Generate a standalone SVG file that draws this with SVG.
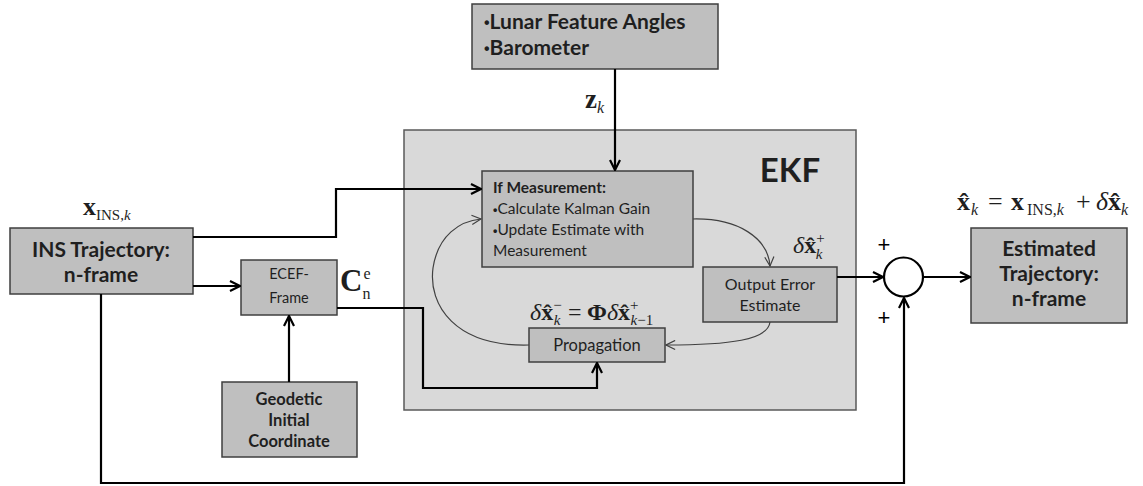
<svg xmlns="http://www.w3.org/2000/svg" width="1143" height="486" viewBox="0 0 1143 486">
<defs>
<style>
.box{fill:#bfbfbf;stroke:#3f3f3f;stroke-width:1.5}
.ekf{fill:#d9d9d9;stroke:#595959;stroke-width:1.5}
.t{font-family:Lato,"Open Sans","Liberation Sans",sans-serif;fill:#1f1f1f}
.b{font-weight:bold}
.c{text-anchor:middle}
.bul{font-family:"Liberation Sans",sans-serif;font-weight:bold}
.m{font-family:"Liberation Serif","DejaVu Serif",serif;fill:#1f1f1f}
.plus{font-family:"Liberation Sans",sans-serif;fill:#000;text-anchor:middle}
.thick{fill:none;stroke:#000;stroke-width:2.2}
.thin{fill:none;stroke:#404040;stroke-width:1.2}
</style>
<marker id="ah" viewBox="0 0 12 12" refX="11" refY="6" markerWidth="12" markerHeight="12" markerUnits="userSpaceOnUse" orient="auto"><path d="M1,1 L11,6 L1,11" fill="none" stroke="#000" stroke-width="2.2"/></marker>
<marker id="ahs" viewBox="0 0 12 12" refX="11" refY="6" markerWidth="11" markerHeight="11" markerUnits="userSpaceOnUse" orient="auto"><path d="M1,1 L11,6 L1,11" fill="none" stroke="#404040" stroke-width="1.3"/></marker>
</defs>

<g id="ekf">
<rect class="ekf" x="404" y="130" width="452" height="280"/>
<text class="t b" x="790" y="182" font-size="33" text-anchor="middle">EKF</text>
</g>

<g id="lunar">
<rect class="box" x="472" y="4" width="246" height="65"/>
<text class="t b" x="484" y="29" font-size="21"><tspan class="bul" font-size="16" dy="-1">•</tspan><tspan dy="1">Lunar Feature Angles</tspan></text>
<text class="t b" x="484" y="55" font-size="21"><tspan class="bul" font-size="16" dy="-1">•</tspan><tspan dy="1">Barometer</tspan></text>
</g>

<g id="ifmeas">
<rect class="box" x="482" y="171" width="211" height="96"/>
<text class="t b" x="493" y="193" font-size="15.5">If Measurement:</text>
<text class="t" x="493" y="214" font-size="15.5"><tspan class="bul" font-size="12.5">•</tspan>Calculate Kalman Gain</text>
<text class="t" x="493" y="235" font-size="15.5"><tspan class="bul" font-size="12.5">•</tspan>Update Estimate with</text>
<text class="t" x="493" y="256" font-size="15.5">Measurement</text>
</g>

<g id="output">
<rect class="box" x="703" y="267" width="134" height="55"/>
<text class="t c" x="770" y="290" font-size="16">Output Error</text>
<text class="t c" x="770" y="311" font-size="16">Estimate</text>
</g>

<g id="propagation">
<rect class="box" x="529" y="328" width="136" height="34"/>
<text class="t c" x="597" y="351" font-size="16.5">Propagation</text>
</g>

<g id="ins">
<rect class="box" x="10" y="228" width="183" height="66"/>
<text class="t b c" x="101" y="257" font-size="21">INS Trajectory:</text>
<text class="t b c" x="101" y="282" font-size="21">n-frame</text>
</g>

<g id="ecef">
<rect class="box" x="241" y="260" width="96" height="55"/>
<text class="t c" x="289" y="279" font-size="14.5">ECEF-</text>
<text class="t c" x="289" y="303" font-size="14.5">Frame</text>
</g>

<g id="geodetic">
<rect class="box" x="222" y="382" width="135" height="75"/>
<text class="t b c" x="289" y="405" font-size="16.5">Geodetic</text>
<text class="t b c" x="289" y="426" font-size="16.5">Initial</text>
<text class="t b c" x="289" y="447" font-size="16.5">Coordinate</text>
</g>

<g id="sum">
<circle cx="903.5" cy="277" r="19.5" fill="#fff" stroke="#000" stroke-width="2.2"/>
<text class="plus" x="884" y="252" font-size="22">+</text>
<text class="plus" x="884" y="325" font-size="22">+</text>
</g>

<g id="estimated">
<rect class="box" x="971" y="228" width="156" height="95"/>
<text class="t b c" x="1049" y="256" font-size="21">Estimated</text>
<text class="t b c" x="1049" y="281" font-size="21">Trajectory:</text>
<text class="t b c" x="1049" y="306" font-size="21">n-frame</text>
</g>

<g id="connectors">
<path class="thick" d="M615,69 V170" marker-end="url(#ah)"/>
<path class="thick" d="M193,237 H336 V189 H481" marker-end="url(#ah)"/>
<path class="thick" d="M193,286 H240" marker-end="url(#ah)"/>
<path class="thick" d="M289,382 V316" marker-end="url(#ah)"/>
<path class="thick" d="M337,308 H423 V388 H597 V363" marker-end="url(#ah)"/>
<path class="thick" d="M101,294 V483 H904 V298" marker-end="url(#ah)"/>
<path class="thick" d="M837,277 H883" marker-end="url(#ah)"/>
<path class="thick" d="M923,277 H970" marker-end="url(#ah)"/>
<path class="thin" d="M693,219 C738,218 768,238 770,266" marker-end="url(#ahs)"/>
<path class="thin" d="M770,322 C768,340 730,345 666,345" marker-end="url(#ahs)"/>
<path class="thin" d="M529,345 C455,347 428,305 433,268 C438,235 460,221 481,219" marker-end="url(#ahs)"/>
</g>

<g id="labels">
<text class="m" x="585" y="108" font-size="27"><tspan font-weight="bold">z</tspan><tspan font-style="italic" font-size="16" dy="5">k</tspan></text>
<text class="m" x="83" y="215" font-size="26"><tspan font-weight="bold">x</tspan><tspan font-size="15" dy="5">INS,</tspan><tspan font-size="15" font-style="italic">k</tspan></text>
<text class="m" x="340" y="291" font-size="31"><tspan font-weight="bold">C</tspan><tspan font-size="16" dx="1" dy="-12">e</tspan><tspan font-size="16" dx="-8" dy="20">n</tspan></text>
<text class="m" x="793" y="253" font-size="24"><tspan font-style="italic">δ</tspan><tspan font-weight="bold">x&#x302;</tspan><tspan font-size="15" dy="-10">+</tspan><tspan font-size="15" font-style="italic" dx="-9" dy="16">k</tspan></text>
<text class="m" y="320" font-size="24"><tspan x="530" font-style="italic">δ</tspan><tspan font-weight="bold">x&#x302;</tspan><tspan font-size="15" dy="-10">−</tspan><tspan font-size="15" font-style="italic" dx="-8" dy="15">k</tspan><tspan x="568" dy="-5">=</tspan><tspan x="587" font-weight="bold">Φ</tspan><tspan font-style="italic">δ</tspan><tspan font-weight="bold">x&#x302;</tspan><tspan font-size="15" dy="-10">+</tspan><tspan font-size="15" font-style="italic" dx="-8" dy="15">k</tspan><tspan font-size="15">−1</tspan></text>
<text class="m" y="210" font-size="26"><tspan x="957" font-weight="bold">x&#x302;</tspan><tspan x="971" font-style="italic" font-size="16" dy="5">k</tspan><tspan x="988" dy="-5">=</tspan><tspan x="1011" font-weight="bold">x</tspan><tspan x="1027" font-size="16" dy="5">INS,</tspan><tspan font-size="16" font-style="italic">k</tspan><tspan x="1076" dy="-5">+</tspan><tspan x="1096" font-style="italic">δ</tspan><tspan font-weight="bold">x&#x302;</tspan><tspan font-style="italic" font-size="16" dy="5">k</tspan></text>
</g>
</svg>
